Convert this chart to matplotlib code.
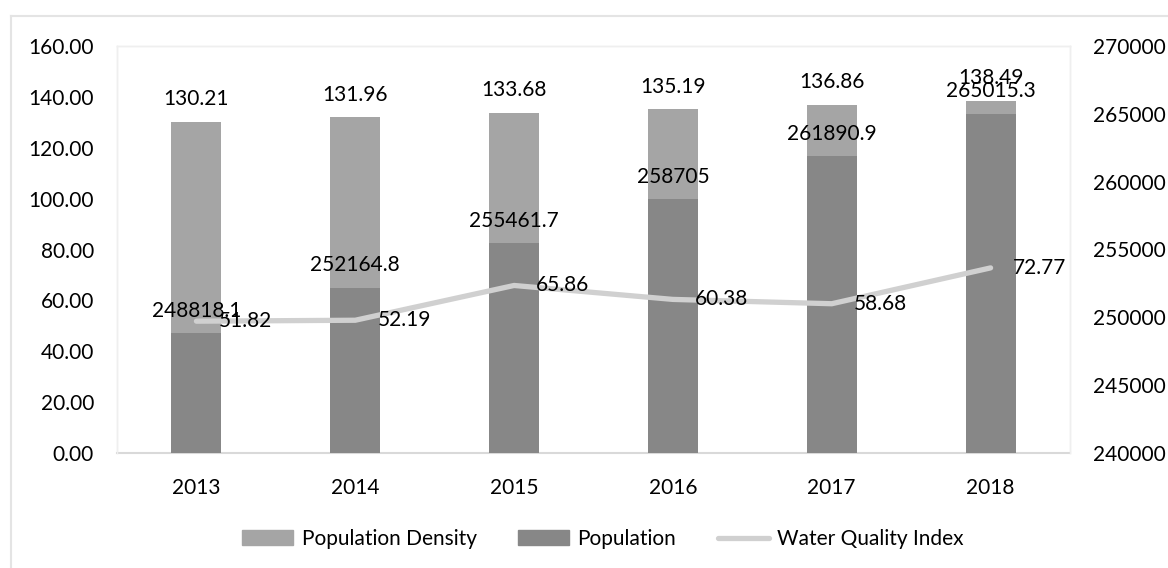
import numpy as np
import matplotlib.pyplot as plt
from matplotlib.lines import Line2D

plt.rcParams['font.family'] = ['Lato', 'DejaVu Sans']

years = ['2013', '2014', '2015', '2016', '2017', '2018']
density = [130.21, 131.96, 133.68, 135.19, 136.86, 138.49]
population = [248818.1, 252164.8, 255461.7, 258705, 261890.9, 265015.3]
water_quality = [51.82, 52.19, 65.86, 60.38, 58.68, 72.77]

c_density = '#a5a5a5'
c_pop = '#878787'
c_line = '#d0d0d0'
c_frame = '#d9d9d9'
fs = 15


def fmt_pop(v):
    # one decimal, trailing zero dropped
    return ('%.1f' % v).rstrip('0').rstrip('.')


fig = plt.figure(figsize=(11.68, 5.68), dpi=100)
ax = fig.add_axes([117 / 1168, 1 - 453 / 568, (1070 - 117) / 1168, (453 - 46) / 568])
ax2 = ax.twinx()

x = np.arange(len(years))
w = 0.315

# density bars on the left axis
ax.bar(x, density, width=w, color=c_density, zorder=1)
ax.set_ylim(0, 160)
ax.set_yticks(np.arange(0, 161, 20))
ax.set_yticklabels(['%.2f' % v for v in np.arange(0, 161, 20)])
ax.set_xlim(-0.5, len(years) - 0.5)
ax.set_xticks(x)
ax.set_xticklabels(years)

# population bars on the right axis
ax2.bar(x, [p - 240000 for p in population], bottom=240000, width=w, color=c_pop, zorder=1)
ax2.set_ylim(240000, 270000)
ax2.set_yticks(np.arange(240000, 270001, 5000))

# water quality line drawn above everything
ax3 = ax.twinx()
ax3.set_ylim(0, 160)
ax3.axis('off')
ax3.plot(x, water_quality, color=c_line, lw=3.8, solid_capstyle='round',
         solid_joinstyle='round', zorder=3)

for i in range(len(years)):
    ax3.annotate('%.2f' % density[i], (x[i], density[i]), xytext=(0, 9),
                 textcoords='offset points', ha='center', va='bottom', fontsize=fs)
    ax2.annotate(fmt_pop(population[i]), (x[i], population[i]), xytext=(0, 9),
                 textcoords='offset points', ha='center', va='bottom', fontsize=fs,
                 zorder=5, annotation_clip=False)
    ax3.annotate('%.2f' % water_quality[i], (x[i], water_quality[i]), xytext=(16, 0),
                 textcoords='offset points', ha='left', va='center', fontsize=fs)

for a in (ax, ax2):
    a.tick_params(length=0, labelsize=fs, colors='#000000')
    for s in a.spines.values():
        s.set_color('#efefef')
        s.set_linewidth(1)
ax.spines['bottom'].set_color(c_frame)
ax.spines['bottom'].set_linewidth(1.5)
ax2.spines['bottom'].set_visible(False)
ax.tick_params(axis='y', pad=16.5)
ax.tick_params(axis='x', pad=18)
ax2.tick_params(axis='y', pad=16.5)

# outer chart frame (top and left edges)
fig.add_artist(Line2D([11 / 1168, 1], [1 - 16 / 568, 1 - 16 / 568], color='#e4e4e4', lw=1.5))
fig.add_artist(Line2D([11 / 1168, 11 / 1168], [0, 1 - 16 / 568], color='#e4e4e4', lw=1.5))

handles = [plt.Rectangle((0, 0), 1, 1, color=c_density),
           plt.Rectangle((0, 0), 1, 1, color=c_pop),
           Line2D([], [], color=c_line, lw=3.8, solid_capstyle='round')]
fig.legend(handles, ['Population Density', 'Population', 'Water Quality Index'],
           loc='center', bbox_to_anchor=(603 / 1168, 1 - 539 / 568), ncol=3,
           frameon=False, fontsize=fs, handlelength=2.45, handleheight=0.7,
           handletextpad=0.4, columnspacing=2.0)

fig.savefig('out.png', dpi=100)
